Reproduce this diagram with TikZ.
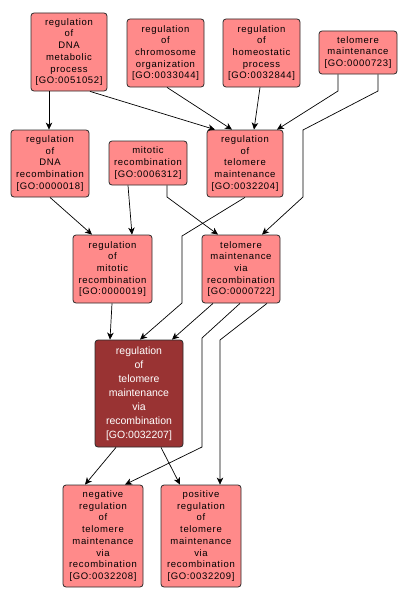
\documentclass[tikz,border=0pt]{standalone}
\usepackage{fontspec}
\setmainfont{Liberation Sans}
\newfontfamily\pinkfont[LetterSpace=7]{Liberation Sans}
\usetikzlibrary{arrows.meta}
\definecolor{pinkfill}{HTML}{FF8A8A}
\definecolor{darkfill}{HTML}{993333}
\definecolor{edgegray}{HTML}{2A2A2A}
\tikzset{
  x=1pt, y=-1pt,
  term/.style={draw=edgegray, line width=0.8pt, rounded corners=3pt, fill=pinkfill,
    inner sep=0pt, align=center, text=black,
    font=\pinkfont\fontsize{9.5}{11.7}\selectfont},
  focus/.style={term, fill=darkfill, text=white,
    font=\fontsize{10.5}{14}\selectfont},
  conn/.style={draw=black, line width=0.7pt, -{Stealth[length=7pt,width=6.5pt,inset=2pt]}},
}
\begin{document}
\begin{tikzpicture}
\useasboundingbox (0,0) rectangle (407,602);
% nodes
\node[term, minimum width=76pt, minimum height=78pt] (A) at (69,52) {regulation\\of\\DNA\\metabolic\\process\\{}[GO:0051052]};
\node[term, minimum width=77pt, minimum height=68pt] (B) at (165.5,53) {regulation\\of\\chromosome\\organization\\{}[GO:0033044]};
\node[term, minimum width=77pt, minimum height=68pt] (C) at (261.5,53) {regulation\\of\\homeostatic\\process\\{}[GO:0032844]};
\node[term, minimum width=78pt, minimum height=43pt] (D) at (358,52.5) {telomere\\maintenance\\{}[GO:0000723]};
\node[term, minimum width=78pt, minimum height=67pt] (E) at (50,163.5) {regulation\\of\\DNA\\recombination\\{}[GO:0000018]};
\node[term, minimum width=78pt, minimum height=44pt] (F) at (148,163) {mitotic\\recombination\\{}[GO:0006312]};
\node[term, minimum width=76pt, minimum height=67pt] (G) at (245,163.5) {regulation\\of\\telomere\\maintenance\\{}[GO:0032204]};
\node[term, minimum width=79pt, minimum height=68pt] (H) at (112.5,269) {regulation\\of\\mitotic\\recombination\\{}[GO:0000019]};
\node[term, minimum width=78pt, minimum height=68pt] (I) at (241,269) {telomere\\maintenance\\via\\recombination\\{}[GO:0000722]};
\node[focus, minimum width=88pt, minimum height=107pt] (J) at (139,393.5) {regulation\\of\\telomere\\maintenance\\via\\recombination\\{}[GO:0032207]};
\node[term, minimum width=80pt, minimum height=102pt] (K) at (103,536) {negative\\regulation\\of\\telomere\\maintenance\\via\\recombination\\{}[GO:0032208]};
\node[term, minimum width=80pt, minimum height=102pt] (L) at (201,536) {positive\\regulation\\of\\telomere\\maintenance\\via\\recombination\\{}[GO:0032209]};
% connectors
\draw[conn] ([xshift=-20pt]A.south) -- ([xshift=-1pt]E.north);
\draw[conn] ([xshift=21pt]A.south) -- ([xshift=-30pt]G.north);
\draw[conn] ([xshift=1.5pt]B.south) -- ([xshift=-13pt]G.north);
\draw[conn] ([xshift=-1.5pt]C.south) -- ([xshift=9pt]G.north);
\draw[conn] ([xshift=-20pt]D.south) -- (338,91) -- ([xshift=32pt]G.north);
\draw[conn] ([xshift=20pt]D.south) -- (378,91) -- (303,130) -- (303,197) -- ([xshift=21pt]I.north);
\draw[conn] (E.south) -- ([xshift=-20.5pt]H.north);
\draw[conn] ([xshift=-20pt]F.south) -- ([xshift=19.5pt]H.north);
\draw[conn] ([xshift=19pt]F.south) -- (167,197) -- ([xshift=-23pt]I.north);
\draw[conn] (G.south) -- (182,236) -- (182,303) -- ([xshift=1pt]J.north);
\draw[conn] ([xshift=-0.5pt]H.south) -- ([xshift=-29pt]J.north);
\draw[conn] ([xshift=-28pt]I.south) -- ([xshift=33pt]J.north);
\draw[conn] ([xshift=-1pt]I.south) -- (202,338) -- (202,447) -- ([xshift=22pt]K.north);
\draw[conn] ([xshift=26pt]I.south) -- (220,340) -- ([xshift=19pt]L.north);
\draw[conn] ([xshift=-23pt]J.south) -- ([xshift=-18pt]K.north);
\draw[conn] ([xshift=22pt]J.south) -- ([xshift=-21pt]L.north);
\end{tikzpicture}
\end{document}
